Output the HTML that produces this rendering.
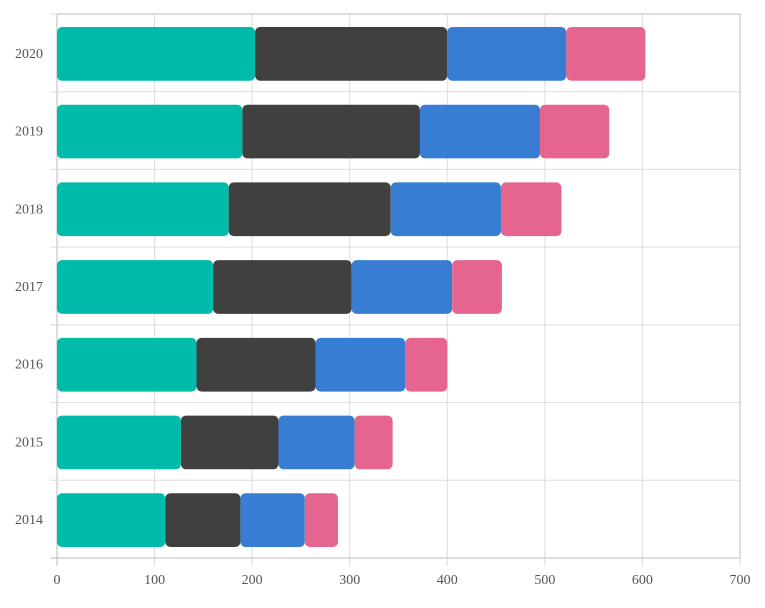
<!DOCTYPE html>
<html><head><meta charset="utf-8"><style>
body{margin:0;background:#fff}
text{font-family:"Liberation Serif",serif;font-size:14px;fill:#555}
</style></head><body>
<svg id="c" width="765" height="603"></svg>
<script>
const categories=["2014","2015","2016","2017","2018","2019","2020"];
const seriesA=[111,127,143,160,176,190,203];
const seriesB=[77,100,122,142,166,182,197];
const seriesC=[66,78,92,103,113,123,122];
const seriesD=[34,39,43,51,62,71,81];
const xTicks=[0,100,200,300,400,500,600,700];
const colors=["#00bbaa","#404040","#377dd4","#e6658f"];
const L=57,R=740,T=14,B=558,xMax=700;
const x=v=>L+v/xMax*(R-L);
const band=(B-T)/categories.length;
const yTop=i=>B-(i+1)*band;
const svg=document.getElementById('c');
const NS="http://www.w3.org/2000/svg";
function mk(t,a){const e=document.createElementNS(NS,t);for(const k in a)e.setAttribute(k,a[k]);svg.appendChild(e);return e;}
let e;
for(const t of xTicks){
 e=mk('line',{x1:x(t),x2:x(t),y1:T,y2:B+8,stroke:t===0?'#bbb':'#ddd'});
 
 
 e=mk('text',{x:x(t),y:B+26,'text-anchor':'middle'});e.textContent=t;
 
 
}
for(let i=0;i<=categories.length;i++){
 const y=B-i*band;
 e=mk('line',{x1:L-7,x2:R,y1:y,y2:y,stroke:i===0?'#bbb':'#ddd'});
 
 
}
e=mk('line',{x1:R,x2:R,y1:T,y2:B,stroke:'#bbb'});


e=mk('line',{x1:L,x2:R,y1:T,y2:T,stroke:'#bbb'});


const series=[seriesA,seriesB,seriesC,seriesD];
categories.forEach((c,i)=>{
 const yt=yTop(i)+13,h=band-24;
 let acc=0;
 series.forEach((s,k)=>{
  const x0=x(acc),x1=x(acc+s[i]);acc+=s[i];
  e=mk('rect',{x:x0,y:yt,width:Math.max(0,x1-x0),height:h,rx:5,fill:colors[k]});
  
  
 });
 e=mk('text',{x:43,y:yTop(i)+band/2+5,'text-anchor':'end'});e.textContent=c;
 
 
});
</script>
</body></html>
